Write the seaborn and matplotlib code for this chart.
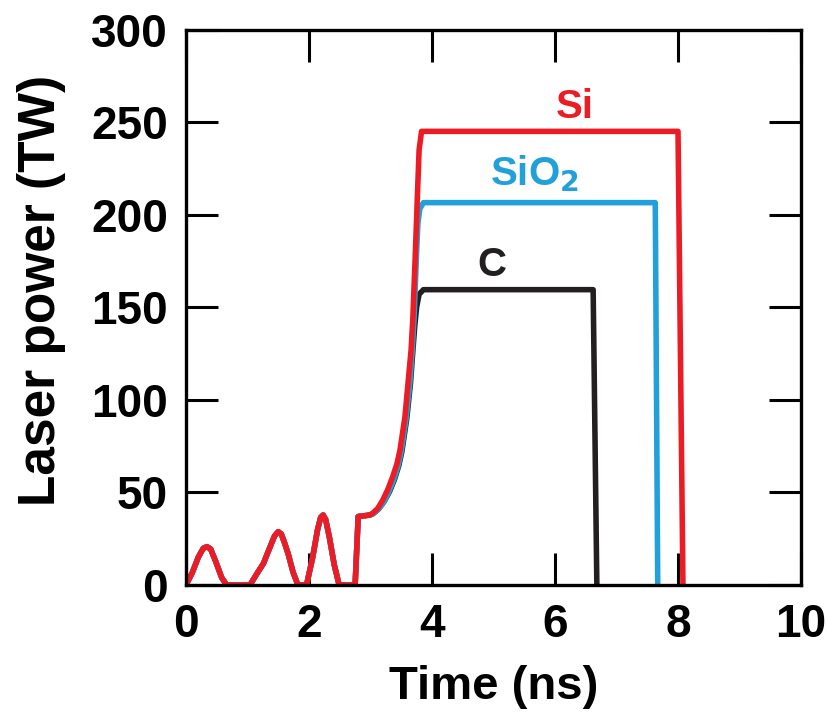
import matplotlib
matplotlib.use("Agg")
import matplotlib.pyplot as plt
import seaborn as sns
import pandas as pd

# Shared picket foot pulse (ns, TW)
foot_time = [0.00, 0.10, 0.20, 0.28, 0.34, 0.40, 0.48, 0.58, 0.66, 1.04,
             1.16, 1.26, 1.36, 1.44, 1.50, 1.55, 1.60, 1.66, 1.74, 1.82,
             1.96, 2.06, 2.14, 2.19, 2.23, 2.27, 2.33, 2.41, 2.49, 2.75,
             2.80, 2.90, 2.99]
foot_power = [0.0, 6.5, 15.0, 19.8, 20.7, 19.5, 13.0, 4.0, 0.0, 0.0,
              6.5, 11.7, 20.0, 26.5, 28.8, 27.5, 23.0, 17.0, 7.0, 0.0,
              0.0, 15.0, 30.0, 36.5, 37.8, 35.5, 26.0, 11.0, 0.0, 0.0,
              37.0, 37.4, 37.8]

# Main drive for each target
si_time = [3.04, 3.12, 3.20, 3.28, 3.36, 3.43, 3.48, 3.56, 3.61, 3.66, 3.69,
           3.71, 3.73, 3.76, 3.79, 3.83, 8.00, 8.08]
si_power = [38.9, 41.5, 45.9, 51.5, 58.4, 65.5, 73.0, 90.8, 109.0, 127.0,
            145.0, 163.0, 180.0, 208.0, 235.0, 245.0, 245.0, 0.0]

sio2_time = [3.04, 3.13, 3.22, 3.30, 3.38, 3.45, 3.50, 3.58, 3.64, 3.68, 3.71,
             3.73, 3.75, 3.77, 3.80, 3.86, 7.63, 7.67]
sio2_power = [38.5, 41.0, 45.0, 50.5, 57.0, 64.5, 72.0, 90.0, 109.0, 127.0,
              145.0, 163.0, 180.0, 195.0, 203.0, 206.5, 206.5, 0.0]

c_time = [3.04, 3.13, 3.22, 3.31, 3.39, 3.46, 3.51, 3.59, 3.65, 3.69, 3.72,
          3.75, 3.79, 3.86, 6.62, 6.68]
c_power = [38.5, 41.0, 45.0, 50.5, 57.0, 64.5, 72.0, 90.0, 109.0, 127.0,
           140.0, 150.0, 157.0, 159.5, 159.5, 0.0]

series = ["C", "SiO2", "Si"]
colors = {"Si": "#ED1C24", "SiO2": "#22A0DA", "C": "#231F20"}

drives = {"C": (c_time, c_power), "SiO2": (sio2_time, sio2_power),
          "Si": (si_time, si_power)}

x_ticks = [0, 2, 4, 6, 8, 10]
y_ticks = [0, 50, 100, 150, 200, 250, 300]

sns.set_theme(style="ticks")
plt.rcParams["font.family"] = ["Liberation Sans", "DejaVu Sans"]
plt.rcParams["font.weight"] = "bold"
plt.rcParams["mathtext.default"] = "bf"
for key in ["text.color", "axes.labelcolor", "xtick.color", "ytick.color",
            "axes.edgecolor"]:
    plt.rcParams[key] = "black"

fig = plt.figure(figsize=(8.27, 7.13), dpi=100)
ax = fig.add_axes([0.2249, 0.1795, 0.7437, 0.7791])

for name in series:
    t, p = drives[name]
    df = pd.DataFrame({"Time": foot_time + t, "Power": foot_power + p})
    sns.lineplot(data=df, x="Time", y="Power", sort=False, estimator=None,
                 color=colors[name], lw=4.0, ax=ax,
                 solid_joinstyle="round", solid_capstyle="round")

ax.set_xlim(0, 10)
ax.set_ylim(0, 300)
ax.set_xticks(x_ticks)
ax.set_yticks(y_ticks)
ax.tick_params(direction="in", length=23, width=2.2, top=True, right=True,
               labelsize=33, pad=13, colors="black")
for lab in ax.get_xticklabels() + ax.get_yticklabels():
    lab.set_fontweight("bold")
for sp in ax.spines.values():
    sp.set_linewidth(2.4)
    sp.set_color("black")

ax.set_xlabel("Time (ns)", fontsize=34, fontweight="bold", labelpad=13,
              color="black")
ax.set_ylabel("Laser power (TW)", fontsize=37, fontweight="bold",
              color="black")
ax.yaxis.set_label_coords(-0.195, 0.531)

ax.text(6.32, 258, "Si", color=colors["Si"], fontsize=29, fontweight="bold",
        ha="center", va="center")
ax.text(5.67, 222, r"SiO$_\mathbf{2}$", color=colors["SiO2"], fontsize=29,
        fontweight="bold", ha="center", va="center")
ax.text(4.97, 173, "C", color=colors["C"], fontsize=29, fontweight="bold",
        ha="center", va="center")

fig.savefig("out.png", dpi=100)
